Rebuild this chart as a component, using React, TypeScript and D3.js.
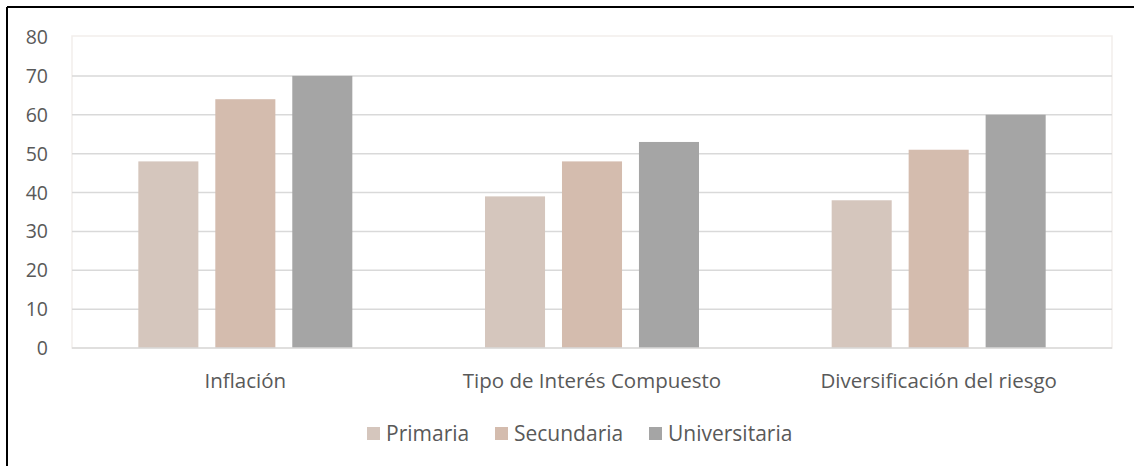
import React, { useEffect, useRef } from 'react';
import * as d3 from 'd3';

const categories = ['Inflación', 'Tipo de Interés Compuesto', 'Diversificación del riesgo'];
const seriesNames = ['Primaria', 'Secundaria', 'Universitaria'];
const primaria = [48, 39, 38];
const secundaria = [64, 48, 51];
const universitaria = [70, 53, 60];
const yTicks = [0, 10, 20, 30, 40, 50, 60, 70, 80];
const colors = ['#D5C6BD', '#D4BCAE', '#A5A5A5'];

const App = () => {
  const chartRef = useRef<SVGSVGElement>(null);

  useEffect(() => {
    drawChart();
  }, []);

  const drawChart = () => {
    const width = 1134;
    const height = 466;
    const plot = { left: 72, right: 1112, top: 37, bottom: 348 };
    const font = "'Open Sans', sans-serif";
    const textColor = '#595959';
    const values = [primaria, secundaria, universitaria];

    const svg = d3.select(chartRef.current)
      .attr('width', width)
      .attr('height', height);
    svg.selectAll('*').remove();

    svg.append('rect').attr('width', width).attr('height', height).attr('fill', '#fff');

    // outer frame (only top and left edges show)
    svg.append('line').attr('x1', 7).attr('x2', width).attr('y1', 7).attr('y2', 7)
      .attr('stroke', '#000').attr('stroke-width', 2);
    svg.append('line').attr('x1', 7).attr('x2', 7).attr('y1', 7).attr('y2', height)
      .attr('stroke', '#000').attr('stroke-width', 2);

    const x = d3.scaleBand()
      .domain(categories)
      .range([plot.left, plot.right]);

    const groupW = 214;
    const xInner = d3.scaleBand()
      .domain(seriesNames)
      .range([0, groupW])
      .paddingInner(0.22);

    const y = d3.scaleLinear()
      .domain([0, 80])
      .range([plot.bottom, plot.top]);

    // plot area border
    svg.append('rect')
      .attr('x', plot.left).attr('y', plot.top - 1)
      .attr('width', plot.right - plot.left).attr('height', plot.bottom - plot.top + 1)
      .attr('fill', 'none').attr('stroke', '#F2EEEB').attr('stroke-width', 1.5);

    // gridlines
    svg.append('g')
      .selectAll('line')
      .data(yTicks.filter(d => d > 0 && d < 80))
      .enter()
      .append('line')
      .attr('x1', plot.left).attr('x2', plot.right)
      .attr('y1', d => y(d)).attr('y2', d => y(d))
      .attr('stroke', '#D9D9D9').attr('stroke-width', 1.5);

    // y labels
    svg.append('g')
      .selectAll('text')
      .data(yTicks)
      .enter()
      .append('text')
      .attr('x', 48)
      .attr('y', d => y(d) + 7)
      .attr('text-anchor', 'end')
      .attr('font-family', font)
      .attr('font-size', 19.5)
      .attr('fill', textColor)
      .text(d => d);

    // bars
    seriesNames.forEach((s, si) => {
      svg.append('g')
        .selectAll('rect')
        .data(categories)
        .enter()
        .append('rect')
        .attr('x', c => (x(c) as number) + x.bandwidth() / 2 - groupW / 2 + (xInner(s) as number))
        .attr('y', (c, i) => y(values[si][i]))
        .attr('width', xInner.bandwidth())
        .attr('height', (c, i) => plot.bottom - y(values[si][i]))
        .attr('fill', colors[si]);
    });

    // baseline
    svg.append('line')
      .attr('x1', plot.left).attr('x2', plot.right)
      .attr('y1', y(0)).attr('y2', y(0))
      .attr('stroke', '#D9D9D9').attr('stroke-width', 1.5);

    // category labels
    svg.append('g')
      .selectAll('text')
      .data(categories)
      .enter()
      .append('text')
      .attr('x', c => (x(c) as number) + x.bandwidth() / 2)
      .attr('y', 388)
      .attr('text-anchor', 'middle')
      .attr('font-family', font)
      .attr('font-size', 20.5)
      .attr('fill', textColor)
      .text(c => c);

    // legend
    const legendX = [367, 495, 649];
    const legend = svg.append('g');
    seriesNames.forEach((s, i) => {
      legend.append('rect')
        .attr('x', legendX[i]).attr('y', 427)
        .attr('width', 13).attr('height', 13)
        .attr('fill', colors[i]);
      legend.append('text')
        .attr('x', legendX[i] + 19).attr('y', 441)
        .attr('font-family', font)
        .attr('font-size', 21)
        .attr('fill', textColor)
        .text(s);
    });
  };

  return (
    <svg ref={chartRef} style={{ position: 'absolute', left: 0, top: 0, display: 'block' }}></svg>
  );
};

export default App;
